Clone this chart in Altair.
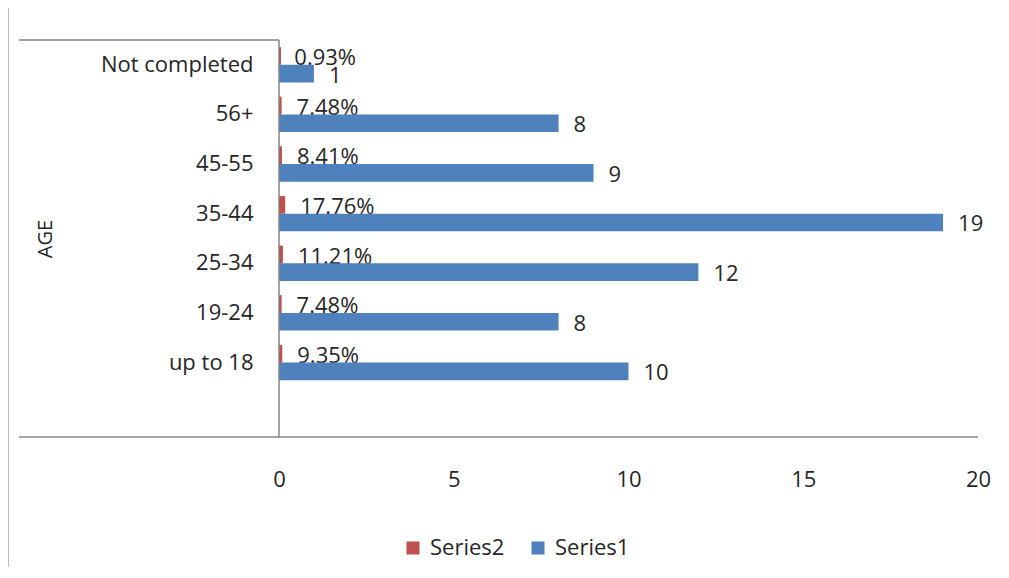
import altair as alt
import pandas as pd

ages = ["Not completed", "56+", "45-55", "35-44", "25-34", "19-24", "up to 18"]
series1 = [1, 8, 9, 19, 12, 8, 10]
series2 = [0.0093, 0.0748, 0.0841, 0.1776, 0.1121, 0.0748, 0.0935]
series_names = ["Series2", "Series1"]
colors = ["#C0504D", "#4F81BD"]
x_ticks = [0, 5, 10, 15, 20]
y_order = ages + [" "]

rows = []
for a, v1, v2 in zip(ages, series1, series2):
    rows.append({"age": a, "series": "Series2", "value": v2, "label": f"{v2*100:.2f}%"})
    rows.append({"age": a, "series": "Series1", "value": v1, "label": f"{v1}"})
df = pd.DataFrame(rows)

FONT = "Open Sans"
FS = 22
TXT = "#262626"
LINE = "#868686"

W, H = 699, 397

y_enc = alt.Y("age:N", sort=y_order,
              scale=alt.Scale(domain=y_order, paddingInner=0.29, paddingOuter=0.145),
              axis=alt.Axis(title="AGE", domain=False, ticks=False, labelPadding=26,
                            labelFontSize=FS, labelFont=FONT, labelColor=TXT,
                            titleFont=FONT, titleFontSize=20, titleFontWeight="normal",
                            titleColor=TXT, titleX=-234, titleY=H / 2, titleAngle=270,
                            titleAlign="center", titleBaseline="middle"))
yoff = alt.YOffset("series:N", scale=alt.Scale(domain=series_names, paddingInner=0, paddingOuter=0))
x_enc = alt.X("value:Q", scale=alt.Scale(domain=[0, 20], nice=False, zero=True),
              axis=alt.Axis(title=None, values=x_ticks, grid=False, domain=False, ticks=False,
                            labelFlush=False, labelPadding=32, labelFontSize=FS,
                            labelFont=FONT, labelColor=TXT))

base = alt.Chart(df)

bars = base.mark_bar(size=17.6).encode(
    x=x_enc, y=y_enc, yOffset=yoff,
    color=alt.Color("series:N", scale=alt.Scale(domain=series_names, range=colors),
                    legend=alt.Legend(title=None, orient="none", legendX=123, legendY=497,
                                      direction="horizontal", symbolType="square",
                                      symbolSize=170, symbolStrokeWidth=0,
                                      labelFontSize=FS, labelFont=FONT, labelColor=TXT,
                                      labelOffset=6, columnPadding=22)),
)

red_ticks = base.transform_filter(alt.datum.series == "Series2").mark_bar(
    size=17.6, color="#C0504D"
).encode(x=alt.value(0), x2=alt.value(2), y=alt.Y("age:N", sort=y_order), yOffset="series:N")

red_labels = base.transform_filter(alt.datum.series == "Series2").mark_text(
    align="left", baseline="middle", dx=15, dy=2, fontSize=FS, font=FONT, color=TXT
).encode(x="value:Q", y=alt.Y("age:N", sort=y_order), yOffset="series:N", text="label:N")

blue_labels = base.transform_filter(alt.datum.series == "Series1").mark_text(
    align="left", baseline="middle", dx=15, dy=2, fontSize=FS, font=FONT, color=TXT
).encode(x="value:Q", y=alt.Y("age:N", sort=y_order), yOffset="series:N", text="label:N")

deco = pd.DataFrame({"d": [0]})
dbase = alt.Chart(deco)
line_top = dbase.mark_rule(color=LINE, strokeWidth=1.5).encode(
    x=alt.value(-260), x2=alt.value(0), y=alt.value(0))
line_bottom = dbase.mark_rule(color=LINE, strokeWidth=1.5).encode(
    x=alt.value(-260), x2=alt.value(W), y=alt.value(H))
line_vert = dbase.mark_rule(color=LINE, strokeWidth=1.5).encode(
    x=alt.value(0), y=alt.value(0), y2=alt.value(H))
frame_top = dbase.mark_rule(color="#7a7a7a", strokeWidth=3).encode(
    x=alt.value(-272), x2=alt.value(720), y=alt.value(-37))
frame_left = dbase.mark_rule(color="#7a7a7a", strokeWidth=3).encode(
    x=alt.value(-272), y=alt.value(-37), y2=alt.value(530))

chart = alt.layer(
    red_labels, red_ticks, bars, blue_labels, line_top, line_bottom, line_vert, frame_top, frame_left
).properties(
    width=W, height=H,
    autosize=alt.AutoSizeParams(type="none"),
    padding={"left": 271, "top": 32, "right": 20, "bottom": 130},
    background="white",
).configure_view(stroke=None)

chart.save("out.html", embed_options={"renderer": "svg", "actions": False})
